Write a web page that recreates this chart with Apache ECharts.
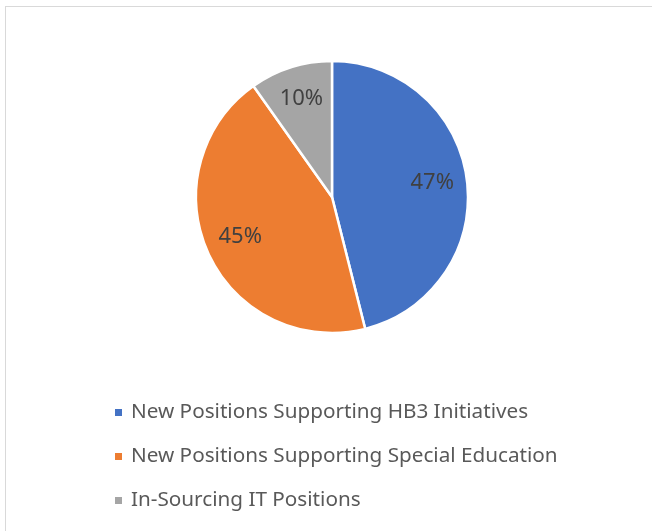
<!DOCTYPE html>
<html>
<head>
<meta charset="utf-8">
<script src="https://cdn.jsdelivr.net/npm/echarts@6/dist/echarts.min.js"></script>
<style>
  html, body { margin: 0; padding: 0; background: #fff; overflow: hidden; }
  #frame {
    position: absolute; left: 5px; top: 6px;
    width: 700px; height: 600px;
    border-left: 1.5px solid #d9d9d9;
    border-top: 1.5px solid #d9d9d9;
  }
  #main { position: absolute; left: 0; top: 0; width: 652px; height: 531px; }
</style>
</head>
<body>
<div id="frame"></div>
<div id="main"></div>
<script>
var categories = ['New Positions Supporting HB3 Initiatives', 'New Positions Supporting Special Education', 'In-Sourcing IT Positions'];
var shares = [47, 45, 10];
var colors = ['#4472c4', '#ed7d31', '#a5a5a5'];

var chartDom = document.getElementById('main');
var myChart = echarts.init(chartDom);

var pieData = categories.map(function (name, i) {
  return { name: name, value: shares[i], itemStyle: { color: colors[i] } };
});

var option = {
  animation: false,
  legend: {
    orient: 'vertical',
    left: 108,
    top: 397,
    icon: 'rect',
    itemWidth: 9,
    itemHeight: 9,
    itemGap: 23,
    textStyle: {
      fontFamily: 'Noto Sans',
      fontSize: 20.7,
      color: '#595959',
      padding: [0, 0, 0, 3]
    },
    data: categories
  },
  series: [{
    // the slices
    type: 'pie',
    center: [332, 197],
    radius: [0, 136],
    startAngle: 90,
    clockwise: true,
    silent: true,
    label: { show: false },
    labelLine: { show: false },
    itemStyle: { borderColor: '#fff', borderWidth: 2.5 },
    data: pieData
  }, {
    // same values, only used to put the labels further out than r/2
    type: 'pie',
    center: [332, 195],
    radius: [62, 134],
    startAngle: 90,
    clockwise: true,
    silent: true,
    itemStyle: { color: 'rgba(0,0,0,0)' },
    label: {
      show: true,
      position: 'inside',
      formatter: '{c}%',
      fontFamily: 'Noto Sans',
      fontSize: 22,
      color: '#404040'
    },
    labelLine: { show: false },
    data: categories.map(function (name, i) { return { name: name, value: shares[i] }; })
  }]
};
option && myChart.setOption(option);
window.addEventListener('resize', function () {
  myChart.resize();
});
</script>
</body>
</html>
